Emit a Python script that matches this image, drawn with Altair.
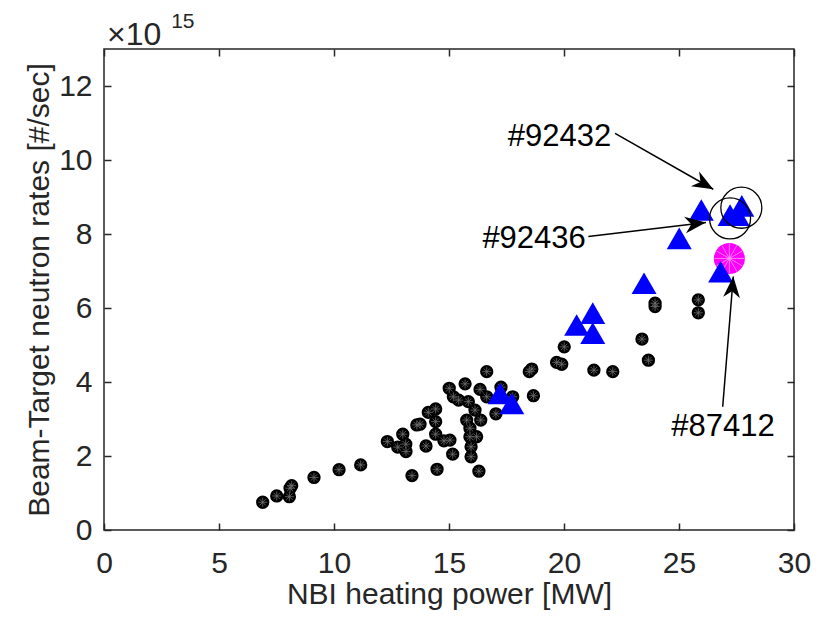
import math
import altair as alt
import pandas as pd

# ---------------- data (neutron rates in units of 1e15 #/sec) ----------------
black_power = [6.90, 7.51, 8.06, 8.09, 8.16, 9.13, 10.22, 11.16, 12.32, 12.77,
               12.99, 13.12, 13.13, 13.39, 13.60, 13.74, 14.00, 14.10, 14.42, 14.42,
               14.42, 14.48, 14.78, 15.04, 15.16, 15.01, 15.19, 15.42, 15.70, 15.84,
               15.77, 15.91, 15.91, 15.96, 15.96, 16.30, 16.35, 16.38, 16.20, 16.13,
               16.64, 16.64, 17.04, 17.26, 17.77, 18.49, 18.60, 18.67, 19.68, 19.90,
               20.01, 21.30, 22.12, 23.39, 23.67, 23.96, 23.96, 25.84, 25.84]
black_rate = [0.75, 0.92, 0.90, 1.13, 1.20, 1.42, 1.63, 1.76, 2.39, 2.24,
              2.59, 2.32, 2.12, 1.47, 2.84, 2.86, 2.27, 3.18, 3.27, 2.93,
              2.59, 1.64, 2.41, 2.43, 2.05, 3.83, 3.60, 3.51, 3.95, 3.47,
              2.97, 2.75, 2.52, 2.25, 1.98, 1.59, 3.80, 2.97, 2.52, 3.24,
              4.28, 3.60, 3.14, 3.86, 3.60, 4.28, 4.35, 3.63, 4.53, 4.48,
              4.95, 4.32, 4.28, 5.16, 4.59, 6.13, 6.04, 6.22, 5.87]

blue_power = [17.22, 17.73, 20.55, 21.25, 21.25, 23.48, 25.01, 25.97, 26.81, 27.22, 27.53, 27.73]
blue_rate = [3.69, 3.42, 5.54, 5.86, 5.32, 6.67, 7.88, 8.65, 6.98, 8.51, 8.51, 8.76]

magenta_power = [27.19]
magenta_rate = [7.34]

ring_power = [27.22, 27.71]
ring_rate = [8.42, 8.71]

shot_labels = ["#92432", "#92436", "#87412"]
label_power = [19.80, 18.70, 26.91]
label_rate = [10.63, 7.86, 2.79]
arrow_from_power = [22.22, 21.06, 26.90]
arrow_from_rate = [10.72, 7.93, 3.33]
arrow_to_power = [26.49, 26.17, 27.36]
arrow_to_rate = [9.21, 8.31, 6.85]

x_ticks = [0, 5, 10, 15, 20, 25, 30]
y_ticks = [0, 2, 4, 6, 8, 10, 12]

# ---------------- layout / style ----------------
W, H = 690, 481
X_DOM, Y_DOM = [0, 30], [0, 13]
PX_X = W / (X_DOM[1] - X_DOM[0])
PX_Y = H / (Y_DOM[1] - Y_DOM[0])
FONT = "Liberation Sans"
AX = "#262626"

black_df = pd.DataFrame({"p": black_power, "r": black_rate})
blue_df = pd.DataFrame({"p": blue_power, "r": blue_rate})
mag_df = pd.DataFrame({"p": magenta_power, "r": magenta_rate})
ring_df = pd.DataFrame({"p": ring_power, "r": ring_rate})
lab_df = pd.DataFrame({"p": label_power, "r": label_rate, "t": shot_labels})
arr_df = pd.DataFrame({"p1": arrow_from_power, "r1": arrow_from_rate,
                       "p2": arrow_to_power, "r2": arrow_to_rate})
arr_df["ang"] = [
    math.degrees(math.atan2(-(b2 - b1) * PX_Y, (a2 - a1) * PX_X)) % 360
    for a1, b1, a2, b2 in zip(arrow_from_power, arrow_from_rate, arrow_to_power, arrow_to_rate)
]

xs = alt.Scale(domain=X_DOM, nice=False, zero=False)
ys = alt.Scale(domain=Y_DOM, nice=False, zero=False)

ax_bottom = alt.Axis(values=x_ticks, orient="bottom", domain=False, grid=False,
                     tickSize=7, offset=-7, tickColor=AX, tickWidth=1.5,
                     labelFont=FONT, labelFontSize=30, labelColor=AX, labelPadding=18,
                     labelFlush=False, labelOverlap=False,
                     title="NBI heating power [MW]", titleFont=FONT, titleFontSize=30,
                     titleFontWeight="normal", titleColor=AX, titleX=W / 2, titleY=80,
                     titleBaseline="alphabetic", titleAlign="center")
ax_left = alt.Axis(values=y_ticks, orient="left", domain=False, grid=False,
                   tickSize=7, offset=-7, tickColor=AX, tickWidth=1.5,
                   labelFont=FONT, labelFontSize=30, labelColor=AX, labelPadding=12,
                   labelFlush=False, labelOverlap=False,
                   title="Beam-Target neutron rates [#/sec]", titleFont=FONT, titleFontSize=30,
                   titleFontWeight="normal", titleColor=AX, titleX=-63, titleY=H / 2,
                   titleAngle=270, titleBaseline="alphabetic", titleAlign="center")
ax_top = alt.Axis(values=x_ticks, orient="top", domain=False, grid=False, labels=False,
                  tickSize=7, offset=-7, tickColor=AX, tickWidth=1.5, title=None)
ax_right = alt.Axis(values=y_ticks, orient="right", domain=False, grid=False, labels=False,
                    tickSize=7, offset=-7, tickColor=AX, tickWidth=1.5, title=None)


def X(field="p", axis=None):
    return alt.X(f"{field}:Q", scale=xs, axis=axis)


def Y(field="r", axis=None):
    return alt.Y(f"{field}:Q", scale=ys, axis=axis)


asterisk8 = "M-1,0L1,0M0,-1L0,1M-0.7,-0.7L0.7,0.7M-0.7,0.7L0.7,-0.7"
asterisk12 = ("M-1,0L1,0M-0.866,-0.5L0.866,0.5M-0.5,-0.866L0.5,0.866"
              "M0,-1L0,1M0.5,-0.866L-0.5,0.866M0.866,-0.5L-0.866,0.5")
arrowhead = "M0,0L-1,-0.4L-0.7,0L-1,0.4Z"

black = alt.Chart(black_df).mark_point(shape="circle", filled=True, fill="#000000",
                                       size=177, opacity=1, strokeWidth=0).encode(
    x=X(axis=ax_bottom), y=Y(axis=ax_left))
black_star = alt.Chart(black_df).mark_point(shape=asterisk8, filled=False, stroke="#6e6e6e",
                                            strokeWidth=0.8, size=81, opacity=1).encode(
    x=X(), y=Y())
mag = alt.Chart(mag_df).mark_point(shape="circle", filled=True, fill="#ff00ff",
                                   size=961, opacity=1, strokeWidth=0).encode(x=X(), y=Y())
mag_star = alt.Chart(mag_df).mark_point(shape=asterisk12, filled=False, stroke="#ff9cff",
                                        strokeWidth=0.8, size=900, opacity=1).encode(x=X(), y=Y())
blue = alt.Chart(blue_df).mark_point(shape="triangle-up", filled=True, fill="#0000ff",
                                     size=625, opacity=1, strokeWidth=0).encode(x=X(), y=Y())
rings = alt.Chart(ring_df).mark_point(shape="circle", filled=False, stroke="#000000",
                                      strokeWidth=1.3, size=1681, opacity=1).encode(
    x=X(axis=ax_top), y=Y(axis=ax_right))
arr_lines = alt.Chart(arr_df).mark_rule(color="#000000", strokeWidth=1.5).encode(
    x=X("p1"), y=Y("r1"), x2="p2:Q", y2="r2:Q")
arr_heads = alt.Chart(arr_df).mark_point(shape=arrowhead, filled=True, fill="#000000",
                                         size=1764, opacity=1, strokeWidth=0).encode(
    x=X("p2"), y=Y("r2"), angle=alt.Angle("ang:Q", scale=None))
labels = alt.Chart(lab_df).mark_text(font=FONT, fontSize=31, color="#000000",
                                     align="center", baseline="middle").encode(
    x=X(), y=Y(), text="t:N")

exp_base = alt.Chart(pd.DataFrame({"p": [0.13], "r": [13.1], "t": ["×10"]})).mark_text(
    font=FONT, fontSize=32, color=AX, align="left", baseline="alphabetic").encode(
    x=X(), y=Y(), text="t:N")
exp_pow = alt.Chart(pd.DataFrame({"p": [2.92], "r": [13.58], "t": ["15"]})).mark_text(
    font=FONT, fontSize=21, color=AX, align="left", baseline="alphabetic").encode(
    x=X(), y=Y(), text="t:N")

chart = alt.layer(
    black, black_star, mag, mag_star, blue, rings, arr_lines, arr_heads, labels, exp_base, exp_pow
).resolve_axis(x="independent", y="independent").properties(
    width=W, height=H,
    autosize=alt.AutoSizeParams(type="none"),
    padding={"left": 96, "top": 41, "right": 22, "bottom": 82},
    background="white",
).configure_view(stroke=AX, strokeWidth=1.5)

chart.save("out.html", embed_options={"renderer": "svg", "actions": False})
